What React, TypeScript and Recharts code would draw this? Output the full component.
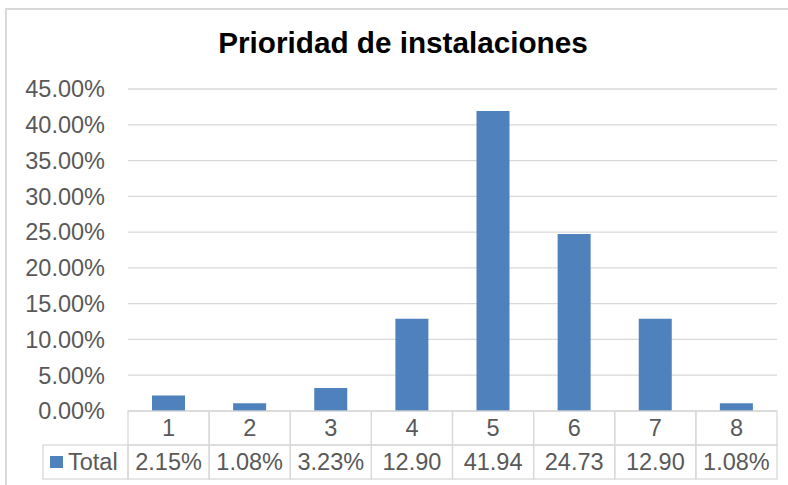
import React from 'react';
import { BarChart, Bar, XAxis, YAxis, CartesianGrid } from 'recharts';

const categories = ['1', '2', '3', '4', '5', '6', '7', '8'];
const totals = [2.15, 1.08, 3.23, 12.9, 41.94, 24.73, 12.9, 1.08];
const tableLabels = ['2.15%', '1.08%', '3.23%', '12.90', '41.94', '24.73', '12.90', '1.08%'];
const yTicks = [0, 5, 10, 15, 20, 25, 30, 35, 40, 45];
const seriesName = 'Total';
const title = 'Prioridad de instalaciones';

const data = categories.map((c, i) => ({ cat: c, total: totals[i] }));

const W = 788;
const H = 485;
const M = { top: 89, right: 11, bottom: 6, left: 0 };
const Y_W = 128;
const X_H = 68;
const plotW = W - M.left - M.right - Y_W;
const band = plotW / categories.length;
const FONT = '"Liberation Sans", Arial, sans-serif';
const GRID = '#d9d9d9';
const TEXT = '#595959';
const BLUE = '#4f81bd';
const FS = 23.5;

const TableTick = (props: any) => {
  const { x, y, payload, index } = props;
  const rowH = X_H / 2;
  const left = x - band / 2;
  return (
    <g>
      <rect x={left} y={y} width={band} height={rowH} fill="none" stroke={GRID} strokeWidth={1.3} />
      <rect x={left} y={y + rowH} width={band} height={rowH} fill="none" stroke={GRID} strokeWidth={1.3} />
      <text x={x} y={y + rowH / 2} dy="0.355em" textAnchor="middle" fill={TEXT} fontSize={FS} fontFamily={FONT}>
        {payload.value}
      </text>
      <text x={x} y={y + rowH * 1.5} dy="0.355em" textAnchor="middle" fill={TEXT} fontSize={FS} fontFamily={FONT}>
        {tableLabels[index]}
      </text>
      {index === 0 && (
        <g>
          <rect x={left - 85} y={y + rowH} width={85} height={rowH} fill="none" stroke={GRID} strokeWidth={1.3} />
          <rect x={left - 78} y={y + rowH * 1.5 - 6} width={13} height={12} fill={BLUE} />
          <text x={left - 60} y={y + rowH * 1.5} dy="0.355em" textAnchor="start" fill={TEXT} fontSize={FS} fontFamily={FONT}>
            {seriesName}
          </text>
        </g>
      )}
    </g>
  );
};

export default function App() {
  return (
    <div style={{ position: 'absolute', left: 0, top: 0, width: W, height: H, overflow: 'hidden', background: '#fff' }}>
      <div
        style={{
          position: 'absolute',
          left: 5,
          top: 8,
          width: 900,
          height: 600,
          border: '2px solid #d9d9d9',
        }}
      />
      <div
        style={{
          position: 'absolute',
          left: 0,
          top: 28,
          width: 806,
          textAlign: 'center',
          fontFamily: FONT,
          fontWeight: 'bold',
          fontSize: 29.7,
          lineHeight: '29.7px',
          color: '#000',
        }}
      >
        {title}
      </div>
      <div style={{ position: 'absolute', left: 0, top: 0 }}>
        <BarChart width={W} height={H} data={data} margin={M} barCategoryGap={0}>
          <CartesianGrid vertical={false} stroke={GRID} strokeWidth={1.3} />
          <YAxis
            width={Y_W}
            domain={[0, 45]}
            ticks={yTicks}
            interval={0}
            axisLine={false}
            tickLine={false}
            tickSize={0}
            tickMargin={23}
            tickFormatter={(v: number) => v.toFixed(2) + '%'}
            tick={{ fill: TEXT, fontSize: FS, fontFamily: FONT }}
          />
          <XAxis
            dataKey="cat"
            height={X_H}
            interval={0}
            axisLine={false}
            tickLine={false}
            tickSize={0}
            tickMargin={0}
            tick={<TableTick />}
          />
          <Bar dataKey="total" fill={BLUE} barSize={33} isAnimationActive={false} />
        </BarChart>
      </div>
    </div>
  );
}
